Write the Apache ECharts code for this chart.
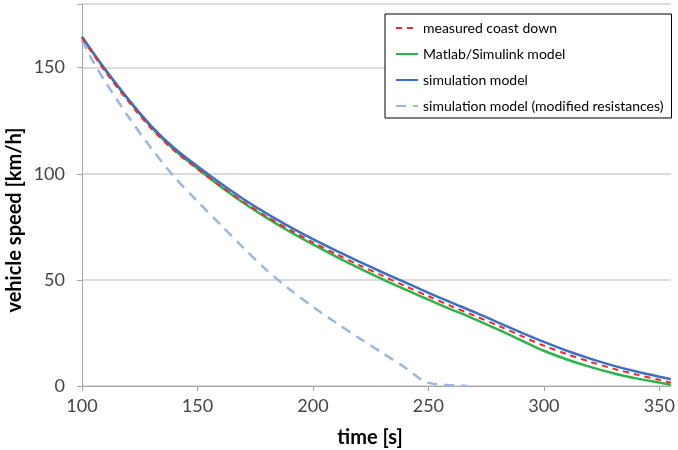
<!DOCTYPE html>
<html><head><meta charset="utf-8">
<script src="https://cdn.jsdelivr.net/npm/echarts@6/dist/echarts.min.js"></script>
<style>html,body{margin:0;padding:0;background:#fff}#c{width:678px;height:450px}</style>
</head><body><div id="c"></div>
<script>
const seriesNames = ['measured coast down','Matlab/Simulink model','simulation model','simulation model (modified resistances)'];
const xTitle = 'time [s]';
const yTitle = 'vehicle speed [km/h]';
const xTicks = [100,150,200,250,300,350];
const yTicks = [0,50,100,150];
// [time s, speed km/h]
const measured = [[100,164],[110,148.3],[120,134.2],[130,121.3],[140,110.8],[150,102.3],[160,94.2],[170,86.7],[180,79.8],[190,73.6],[200,67.7],[210,62.2],[220,57],[230,52],[240,47.1],[250,42.3],[260,37.6],[270,33.1],[280,28.5],[290,23.7],[300,19],[310,15],[320,11.4],[330,8.2],[340,5.4],[350,2.9],[355,1.6]];
const matlab = [[100,164.5],[110,149],[120,135],[130,122],[140,111.3],[150,102.5],[160,94],[170,86.2],[180,79.2],[190,72.7],[200,66.7],[210,61],[220,55.6],[230,50.4],[240,45.5],[250,40.7],[260,36],[265,33.9],[270,31.5],[280,26.7],[290,21.6],[300,16.6],[310,12.5],[320,9],[330,6],[340,3.6],[350,1.6],[355,0.6]];
const simulation = [[100,164.5],[110,149.2],[120,135.2],[130,122.5],[140,112],[150,103.5],[160,95.5],[170,88],[180,81.2],[190,75],[200,69.2],[210,63.8],[220,58.6],[230,53.6],[240,48.8],[250,43.9],[260,39.3],[270,34.8],[280,30],[290,25.3],[300,20.8],[310,16.6],[320,12.9],[330,9.6],[340,6.8],[350,4.4],[355,3.2]];
const modified = [[100,163],[105,152.5],[110,143.5],[120,127],[130,112],[140,98.5],[150,87],[160,76],[170,65],[180,54.5],[190,45.5],[200,37.3],[210,29.8],[220,22.6],[230,15.6],[240,8.6],[245,4.5],[248,2.3],[252,1.1],[258,0.5],[263,0.2],[267,0]];

const FONT = 'Lato';
const chart = echarts.init(document.getElementById('c'), null, {renderer:'canvas'});
const lineSeries = (name, data, color, width, type, z) => ({
  name, type:'line', data, smooth:0.3, showSymbol:false, symbol:'none', z,
  lineStyle:{color, width, type}, itemStyle:{color}
});
chart.setOption({
  animation:false,
  textStyle:{fontFamily:FONT},
  grid:{left:82, right:0, top:4, bottom:64, containLabel:false},
  legend:{
    orient:'vertical', left:385, top:14,
    backgroundColor:'#fff', borderColor:'#000', borderWidth:1,
    padding:[7,8,5,10], itemGap:12, itemWidth:22, itemHeight:14,
    itemStyle:{opacity:0},
    textStyle:{fontFamily:FONT, fontSize:14, color:'#000'},
    data:seriesNames
  },
  graphic:[
    {type:'text', x:15, y:220, rotation:Math.PI/2,
      style:{text:yTitle, fontFamily:FONT, fontSize:20, fontWeight:'bold', fill:'#000', align:'center', verticalAlign:'middle'}},
    {type:'text', x:370, y:438,
      style:{text:xTitle, fontFamily:FONT, fontSize:20, fontWeight:'bold', fill:'#000', align:'center', verticalAlign:'middle'}}
  ],
  xAxis:{
    type:'value', min:100, max:355, interval:50,
    axisLine:{lineStyle:{color:'#a6a6a6', width:1}},
    axisTick:{show:true, length:5, lineStyle:{color:'#a6a6a6'}},
    axisLabel:{fontSize:18, color:'#444', margin:11, showMaxLabel:false,
      formatter:v => xTicks.includes(v) ? String(v) : ''},
    splitLine:{show:false}
  },
  yAxis:{
    type:'value', min:0, max:180, interval:50,
    axisLine:{show:true, lineStyle:{color:'#a6a6a6', width:1}},
    axisTick:{show:true, length:5, lineStyle:{color:'#a6a6a6'}},
    axisLabel:{fontSize:18, color:'#444', margin:17,
      formatter:v => yTicks.includes(v) ? String(v) : ''},
    splitLine:{show:true, lineStyle:{color:'#cfcfcf', width:1.5}}
  },
  series:[
    lineSeries(seriesNames[3], modified, '#9bb7dd', 2.5, [10,7], 2),
    lineSeries(seriesNames[1], matlab, '#2db34a', 2.5, 'solid', 3),
    lineSeries(seriesNames[2], simulation, '#3c70c2', 2.5, 'solid', 4),
    lineSeries(seriesNames[0], measured, '#ee2a2a', 2, [6,5], 5)
  ]
});
</script></body></html>
